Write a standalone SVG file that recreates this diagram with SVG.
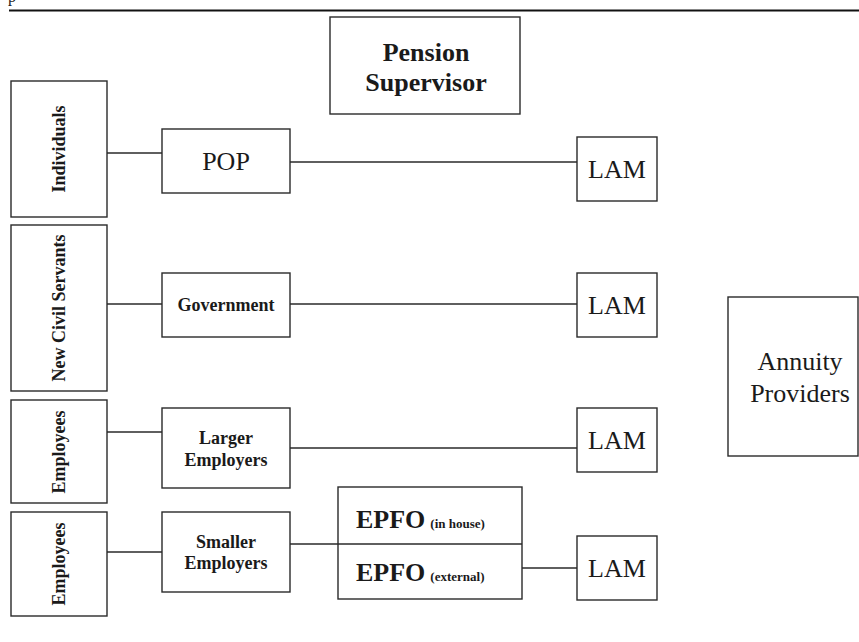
<svg xmlns="http://www.w3.org/2000/svg" width="859" height="642" viewBox="0 0 859 642">
<style>
.box{fill:#fff;stroke:#2a2a2a;stroke-width:1.4}
.ln{stroke:#2a2a2a;stroke-width:1.4;fill:none}
.t{font-family:'Liberation Serif','Times New Roman',serif;fill:#1a1a1a;text-anchor:middle}
.b{font-weight:bold}
.big{font-size:26px}
.mid{font-size:18px}
.sm{font-size:13px;font-weight:bold}
</style>
<rect width="859" height="642" fill="#fff"/>
<text x="8" y="2" font-family="Liberation Serif, serif" font-size="16" fill="#1a1a1a">p</text>
<line x1="9" y1="10.5" x2="859" y2="10.5" stroke="#111" stroke-width="2.2"/>
<g id="connectors">
<line class="ln" x1="107" y1="153" x2="162" y2="153"/>
<line class="ln" x1="290" y1="162" x2="577" y2="162"/>
<line class="ln" x1="107" y1="304" x2="162" y2="304"/>
<line class="ln" x1="290" y1="304" x2="577" y2="304"/>
<line class="ln" x1="107" y1="432" x2="162" y2="432"/>
<line class="ln" x1="290" y1="448" x2="577" y2="448"/>
<line class="ln" x1="107" y1="552" x2="162" y2="552"/>
<line class="ln" x1="290" y1="544" x2="338" y2="544"/>
<line class="ln" x1="522" y1="568" x2="577" y2="568"/>
</g>
<g id="pension-supervisor">
<rect class="box" x="330" y="17" width="190" height="97"/>
<text class="t b big" x="426" y="61">Pension</text>
<text class="t b big" x="426" y="91">Supervisor</text>
</g>
<g id="individuals">
<rect class="box" x="11" y="81" width="96" height="136"/>
<text class="t b mid" transform="translate(65,149) rotate(-90)">Individuals</text>
</g>
<g id="new-civil-servants">
<rect class="box" x="11" y="225" width="96" height="166"/>
<text class="t b mid" transform="translate(65,308) rotate(-90)">New Civil Servants</text>
</g>
<g id="employees-1">
<rect class="box" x="11" y="400" width="96" height="103"/>
<text class="t b mid" transform="translate(65,452) rotate(-90)">Employees</text>
</g>
<g id="employees-2">
<rect class="box" x="11" y="512" width="96" height="104"/>
<text class="t b mid" transform="translate(65,564) rotate(-90)">Employees</text>
</g>
<g id="pop">
<rect class="box" x="162" y="129" width="128" height="64"/>
<text class="t big" x="226" y="170">POP</text>
</g>
<g id="government">
<rect class="box" x="162" y="273" width="128" height="64"/>
<text class="t b mid" x="226" y="311">Government</text>
</g>
<g id="larger-employers">
<rect class="box" x="162" y="408" width="128" height="80"/>
<text class="t b mid" x="226" y="444">Larger</text>
<text class="t b mid" x="226" y="466">Employers</text>
</g>
<g id="smaller-employers">
<rect class="box" x="162" y="512" width="128" height="80"/>
<text class="t b mid" x="226" y="548">Smaller</text>
<text class="t b mid" x="226" y="569">Employers</text>
</g>
<g id="epfo">
<rect class="box" x="338" y="487" width="184" height="112"/>
<line class="ln" x1="338" y1="544" x2="522" y2="544"/>
<text class="t" x="356" y="528" style="text-anchor:start"><tspan class="b big">EPFO</tspan><tspan class="sm" dx="5">(in house)</tspan></text>
<text class="t" x="356" y="581" style="text-anchor:start"><tspan class="b big">EPFO</tspan><tspan class="sm" dx="5">(external)</tspan></text>
</g>
<g id="lam-1">
<rect class="box" x="577" y="137" width="80" height="64"/>
<text class="t big" x="617" y="178">LAM</text>
</g>
<g id="lam-2">
<rect class="box" x="577" y="273" width="80" height="64"/>
<text class="t big" x="617" y="314">LAM</text>
</g>
<g id="lam-3">
<rect class="box" x="577" y="408" width="80" height="64"/>
<text class="t big" x="617" y="449">LAM</text>
</g>
<g id="lam-4">
<rect class="box" x="577" y="536" width="80" height="64"/>
<text class="t big" x="617" y="577">LAM</text>
</g>
<g id="annuity-providers">
<rect class="box" x="728" y="297" width="130" height="159"/>
<text class="t big" x="800" y="370">Annuity</text>
<text class="t big" x="800" y="402">Providers</text>
</g>
</svg>
